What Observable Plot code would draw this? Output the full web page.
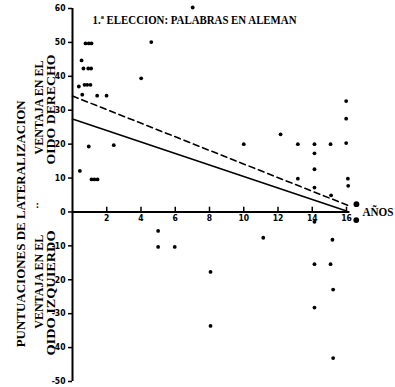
<!DOCTYPE html>
<html>
<head>
<meta charset="utf-8">
<script src="https://cdn.jsdelivr.net/npm/d3@7"></script>
<script src="https://cdn.jsdelivr.net/npm/@observablehq/plot@0.6"></script>
<style>
  body { margin: 0; background: #fff; }
</style>
</head>
<body>
<div id="chart"></div>
<script>
// Individual subjects: age in years and laterality score
const edad = [
  0.76, 0.95, 1.11,
  0.53,
  0.64, 0.92, 1.09,
  0.70, 0.86, 1.05,
  0.37,
  0.57,
  1.44, 1.99,
  0.95, 2.41,
  0.43,
  1.11, 1.28, 1.46,
  4.01, 4.60, 7.02,
  15.98, 15.98,
  12.15,
  10.0, 13.16, 14.13, 15.07, 15.98,
  14.13, 14.13,
  13.16,
  16.08, 16.10,
  14.13,
  15.10,
  16.58, 16.57,
  14.13,
  5.00, 5.00, 5.97,
  11.14, 15.18,
  8.06, 14.13, 15.07,
  15.22, 14.13, 8.06, 15.22
];
const puntuacion = [
  49.7, 49.7, 49.7,
  44.7,
  42.3, 42.3, 42.3,
  37.5, 37.5, 37.5,
  37.0,
  34.6,
  34.3, 34.3,
  19.3, 19.7,
  12.1,
  9.6, 9.6, 9.6,
  39.4, 50.1, 60.3,
  32.7, 27.5,
  22.9,
  20.0, 20.0, 20.0, 20.0, 20.3,
  17.3, 12.6,
  9.8,
  9.8, 7.7,
  7.2,
  4.9,
  2.3, -2.4,
  -2.9,
  -5.6, -10.3, -10.3,
  -7.6, -8.2,
  -17.7, -15.4, -15.4,
  -22.9, -28.2, -33.6, -43.1
];

// Fitted trend lines (endpoints)
const rectaContinuaX = [0, 16];
const rectaContinuaY = [27.4, 0.3];
const rectaDiscontinuaX = [0, 16.2];
const rectaDiscontinuaY = [34.2, 1.7];

// Tick values
const ticksX = [2, 4, 6, 8, 10, 12, 14, 16];
const ticksY = [-50, -40, -30, -20, -10, 0, 10, 20, 30, 40, 50, 60];

// Texts
const titulo = "1.ª ELECCION: PALABRAS EN ALEMAN";
const etiquetaX = "AÑOS";
const etiquetaY = "PUNTUACIONES DE LATERALIZACION";
const derecho = ["VENTAJA EN EL", "OIDO DERECHO"];
const izquierdo = ["VENTAJA EN EL", "OIDO IZQUIERDO"];

const puntos = edad.map((x, i) => ({x, y: puntuacion[i]}));
const continua = rectaContinuaX.map((x, i) => ({x, y: rectaContinuaY[i]}));
const discontinua = rectaDiscontinuaX.map((x, i) => ({x, y: rectaDiscontinuaY[i]}));

const serif = "'Liberation Serif', 'DejaVu Serif', serif";
const narrow = "'Liberation Sans Narrow', 'DejaVu Sans Condensed', sans-serif";

const chart = Plot.plot({
  width: 395,
  height: 387,
  marginLeft: 72,
  marginRight: 49,
  marginTop: 8,
  marginBottom: 6,
  x: {domain: [0, 16], axis: null},
  y: {domain: [-50, 60], axis: null},
  style: {background: "#fff", color: "#000", overflow: "visible"},
  marks: [
    // axes lines
    Plot.ruleX([0], {stroke: "#000", strokeWidth: 2}),
    Plot.ruleY([0], {x1: 0, x2: 16.2, stroke: "#000", strokeWidth: 2}),
    // y axis ticks and labels
    Plot.axisY(ticksY, {
      anchor: "left", tickSize: 4, tickPadding: 3, strokeWidth: 1.5,
      tickFormat: d => String(d), fontSize: 8.5, fontWeight: "bold",
      fontFamily: narrow, label: null
    }),
    // x axis ticks (pointing up) and labels
    Plot.ruleX(ticksX, {y1: 0, y2: 1.4, stroke: "#000", strokeWidth: 1.5}),
    Plot.text(ticksX, {
      x: d => d, y: 0, text: d => String(d), dy: 6,
      fontSize: 8.5, fontWeight: "bold", fontFamily: narrow
    }),
    // trend lines
    Plot.line(continua, {x: "x", y: "y", stroke: "#000", strokeWidth: 1.6}),
    Plot.line(discontinua, {x: "x", y: "y", stroke: "#000", strokeWidth: 1.6, strokeDasharray: "6,4"}),
    // subjects
    Plot.dot(puntos.filter(d => d.x <= 16.3), {x: "x", y: "y", r: 1.9, fill: "#000"}),
    Plot.dot(puntos.filter(d => d.x > 16.3), {x: "x", y: "y", r: 2.9, fill: "#000"}),
    // title
    Plot.text([titulo], {
      frameAnchor: "top-left", dx: 20, dy: 12, lineAnchor: "middle", textAnchor: "start",
      fontSize: 12, fontWeight: "bold", fontFamily: serif
    }),
    // x label
    Plot.text([etiquetaX], {
      x: 16, y: 0, dx: 16, textAnchor: "start",
      fontSize: 11.5, fontWeight: "bold", fontFamily: serif
    }),
    // y labels
    Plot.text([etiquetaY], {
      x: 0, y: -3.5, dx: -52, rotate: -90,
      fontSize: 12.5, fontWeight: "bold", fontFamily: serif
    }),
    Plot.text([derecho[0]], {x: 0, y: 30.8, dx: -33, rotate: -90, fontSize: 12, fontWeight: "bold", fontFamily: serif}),
    Plot.text([derecho[1]], {x: 0, y: 30.2, dx: -21, rotate: -90, fontSize: 12, fontWeight: "bold", fontFamily: serif}),
    Plot.text([izquierdo[0]], {x: 0, y: -20.6, dx: -33, rotate: -90, fontSize: 12, fontWeight: "bold", fontFamily: serif}),
    Plot.text([izquierdo[1]], {x: 0, y: -23.9, dx: -21, rotate: -90, fontSize: 12, fontWeight: "bold", fontFamily: serif}),
    Plot.text([":"], {x: 0, y: 2, dx: -35, fontSize: 10, fontWeight: "bold", fontFamily: serif})
  ]
});

// Fit the condensed lettering to its printed length
const longitudes = new Map([
  [titulo, 204],
  [etiquetaX, 31],
  [etiquetaY, 247],
  ["VENTAJA EN EL", 94],
  ["OIDO DERECHO", 110],
  ["OIDO IZQUIERDO", 125]
]);
d3.select(chart).selectAll("text").each(function() {
  const L = longitudes.get(this.textContent);
  if (L) {
    this.setAttribute("textLength", L);
    this.setAttribute("lengthAdjust", "spacingAndGlyphs");
  }
});

document.getElementById("chart").appendChild(chart);
</script>
</body>
</html>
